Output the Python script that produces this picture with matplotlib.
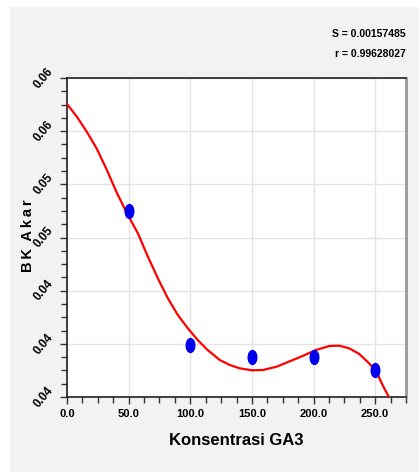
import matplotlib.pyplot as plt
from matplotlib.path import Path
from matplotlib.transforms import Affine2D
from matplotlib.ticker import MultipleLocator, FormatStrFormatter

# data points
konsentrasi = [50.0, 100.0, 150.0, 200.0, 250.0]
bk_akar = [0.0500, 0.0399, 0.0390, 0.0390, 0.0380]

# fitted curve
curve_x = [0, 8, 16, 24, 32, 40, 48.6, 57.5, 65.6, 73.7, 81.8, 89.9, 98,
           106, 114, 124, 132, 140, 150, 159, 170, 180, 191, 202, 213,
           221, 229, 237, 245, 251, 256, 261]
curve_y = [0.05804, 0.05709, 0.05596, 0.05471, 0.05315, 0.05145, 0.04982,
           0.04832, 0.04656, 0.04493, 0.04343, 0.04217, 0.04117, 0.04029,
           0.03954, 0.03878, 0.03841, 0.03816, 0.03801, 0.03803, 0.03828,
           0.03866, 0.03908, 0.03954, 0.03984, 0.03986, 0.03966, 0.03924,
           0.03854, 0.03790, 0.03690, 0.03602]

stat_s = "S = 0.00157485"
stat_r = "r = 0.99628027"

narrow = ['Liberation Sans Narrow', 'Liberation Sans', 'DejaVu Sans']

fig = plt.figure(figsize=(4.19, 4.72), dpi=100, facecolor='white')
# grey panel behind the plot (white strip left and top)
fig.patches.append(plt.Rectangle((10 / 419, 0), 1, 1 - 7 / 472,
                                 transform=fig.transFigure,
                                 facecolor='#f2f2f2', zorder=-10))

ax = fig.add_axes([67 / 419, 75 / 472, 339 / 419, 319 / 472])
ax.set_facecolor('white')

ax.plot(curve_x, curve_y, color='red', lw=1.6, zorder=3,
        solid_joinstyle='round')

ellipse = Path.unit_circle().transformed(Affine2D().scale(0.62, 1.0))
ax.plot(konsentrasi, bk_akar, ls='none', marker=ellipse, ms=10,
        color='#0000ee', mec='#0000ee', zorder=4)

ax.set_xlim(0, 275)
ax.set_ylim(0.036, 0.060)
ax.xaxis.set_major_locator(MultipleLocator(50))
ax.xaxis.set_minor_locator(MultipleLocator(12.5))
ax.yaxis.set_major_locator(MultipleLocator(0.004))
ax.yaxis.set_minor_locator(MultipleLocator(0.001))
ax.xaxis.set_major_formatter(FormatStrFormatter('%.1f'))
ax.yaxis.set_major_formatter(FormatStrFormatter('%.2f'))
ax.grid(True, which='major', color='#e4e4e4', lw=1)
ax.set_axisbelow(True)

ax.tick_params(which='major', direction='out', length=5, width=1, color='#333333')
ax.tick_params(which='minor', direction='out', length=4, width=1, color='#333333')
for lab in ax.get_xticklabels():
    lab.set_family(narrow)
    lab.set_fontweight('bold')
    lab.set_fontsize(8)
for lab in ax.get_yticklabels():
    lab.set_family(narrow)
    lab.set_fontweight('bold')
    lab.set_fontsize(8.5)
    lab.set_rotation(50)
    lab.set_ha('right')
    lab.set_va('center')

for side in ['left', 'bottom', 'top']:
    ax.spines[side].set_color('#222222')
    ax.spines[side].set_linewidth(1.2)
ax.spines['right'].set_color('#999999')
ax.spines['right'].set_linewidth(2)

ax.set_xlabel('Konsentrasi GA3', family=narrow, fontweight='bold',
              fontsize=12, labelpad=10)
fig.text(28 / 419, 1 - 236 / 472, 'B\u2009K\u2002A\u2009k\u2009a\u2009r',
         rotation=90, ha='center', va='center',
         family=['Liberation Sans', 'DejaVu Sans'],
         fontweight='bold', fontsize=10.5)

fig.text(406 / 419, 1 - 34 / 472, stat_s, ha='right', va='center',
         family=narrow, fontweight='bold', fontsize=7.5)
fig.text(406 / 419, 1 - 54 / 472, stat_r, ha='right', va='center',
         family=narrow, fontweight='bold', fontsize=7.5)

plt.savefig('out.png', dpi=100, facecolor=fig.get_facecolor())
